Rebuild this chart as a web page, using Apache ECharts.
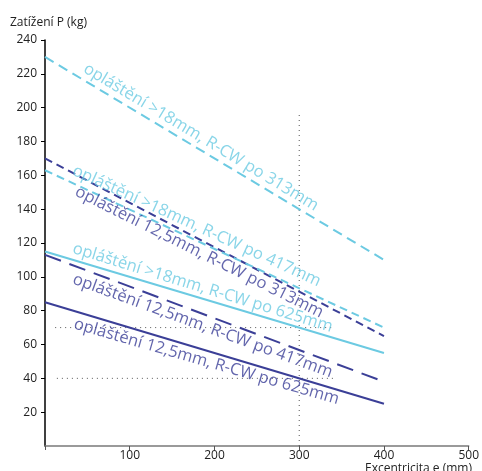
<!DOCTYPE html>
<html><head><meta charset="utf-8">
<script src="https://cdn.jsdelivr.net/npm/echarts@6/dist/echarts.min.js"></script>
<style>html,body{margin:0;padding:0;background:#fff}#c{width:482px;height:471px}</style>
</head><body><div id="c"></div>
<script>
// Eccentricity (mm) endpoints of each line
const xs = [0, 400];
// Load P (kg) at x = 0 and x = 400
const lightDash313 = [230, 110];
const darkDash313 = [170, 65];
const lightDash417 = [163, 70];
const lightSolid625 = [115, 55];
const darkLong417 = [113, 38];
const darkSolid625 = [85, 25];
// Series labels
const names = [
  'opláštění >18mm, R-CW po 313mm',
  'opláštění 12,5mm, R-CW po 313mm',
  'opláštění >18mm, R-CW po 417mm',
  'opláštění >18mm, R-CW po 625mm',
  'opláštění 12,5mm, R-CW po 417mm',
  'opláštění 12,5mm, R-CW po 625mm'
];
// Label anchor points in data space [x, y]
const labelAt = [[184, 182.5], [182, 114.5], [179, 130], [186, 93.5], [186, 71], [190.5, 49.8]];
// Reference guide lines
const guideV = [[300, 0], [300, 196]];
const guideH70 = [[12, 70], [340, 70]];
const guideH40 = [[14, 40], [340, 40]];
const xTicks = [100, 200, 300, 400, 500];
const yTicks = [20, 40, 60, 80, 100, 120, 140, 160, 180, 200, 220, 240];

const LIGHT = '#6ccae2', DARK = '#3b3f97';
const styles = [
  {color: LIGHT, type: [10, 6], rot: 31},
  {color: DARK, type: [8, 5], rot: 26.5},
  {color: LIGHT, type: [8, 5], rot: 24.5},
  {color: LIGHT, type: 'solid', rot: 17},
  {color: DARK, type: [17, 9], rot: 20},
  {color: DARK, type: 'solid', rot: 16}
];
const values = [lightDash313, darkDash313, lightDash417, lightSolid625, darkLong417, darkSolid625];
const FONT = 'Open Sans';

const series = [];
const guide = d => ({type: 'line', data: d, symbol: 'none', silent: true, z: 1,
  lineStyle: {color: '#555', width: 1, type: [1, 4]}});
series.push(guide(guideV), guide(guideH70), guide(guideH40));
values.forEach((v, i) => {
  series.push({type: 'line', symbol: 'none', z: 3,
    data: xs.map((x, k) => [x, v[k]]),
    lineStyle: {color: styles[i].color, width: 2, type: styles[i].type}});
  series.push({type: 'scatter', symbolSize: 0, z: 4, silent: true,
    data: [labelAt[i]],
    label: {show: true, position: 'inside', formatter: names[i], rotate: -styles[i].rot,
      color: styles[i].color, fontFamily: FONT, fontSize: 16.5, align: 'center', verticalAlign: 'middle'}});
});

const chart = echarts.init(document.getElementById('c'), null, {renderer: 'canvas'});
chart.setOption({
  animation: false,
  grid: {left: 45, right: 12, top: 40, bottom: 25, containLabel: false},
  xAxis: {type: 'value', min: 0, max: 500, interval: 100,
    axisLine: {show: true, lineStyle: {color: '#7a7a7a', width: 1.5}},
    axisTick: {show: true, length: 4, lineStyle: {color: '#555'}},
    splitLine: {show: false},
    axisLabel: {margin: 4, color: '#222', fontFamily: FONT, fontSize: 12,
      formatter: v => xTicks.includes(v) ? String(v) : ''}},
  yAxis: {type: 'value', min: 0, max: 240, interval: 20,
    axisLine: {show: true, lineStyle: {color: '#000', width: 1.5}},
    axisTick: {show: true, length: 4, lineStyle: {color: '#000'},
      customValues: yTicks},
    splitLine: {show: false},
    axisLabel: {margin: 8, color: '#222', fontFamily: FONT, fontSize: 12,
      formatter: v => yTicks.includes(v) ? String(v) : ''}},
  graphic: [
    {type: 'text', left: 10, top: 17, style: {text: 'Zatížení P (kg)', fontFamily: FONT, fontSize: 12, fill: '#222'}},
    {type: 'text', right: 10, top: 463, style: {text: 'Excentricita e (mm)', fontFamily: FONT, fontSize: 12, fill: '#222'}}
  ],
  series: series
});
</script></body></html>
